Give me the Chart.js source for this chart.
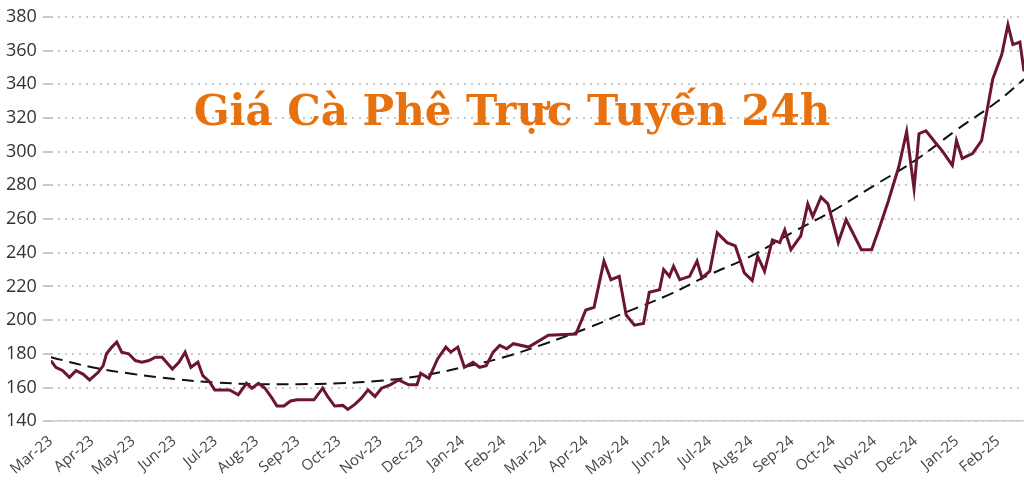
<!DOCTYPE html>
<html><head><meta charset="utf-8">
<script src="https://cdn.jsdelivr.net/npm/chart.js@4"></script>
<style>html,body{margin:0;padding:0;background:#fff;}#w{position:relative;width:1024px;height:482px;}
#t{position:absolute;left:0;width:1024px;top:86px;text-align:center;font:bold 42px "DejaVu Serif",serif;color:#E8710F;}</style>
</head><body><div id="w"><canvas id="c" width="1024" height="482"></canvas><div id="t">Giá Cà Phê Trực Tuyến 24h</div></div>
<script>
const monthLabels=["Mar-23","Apr-23","May-23","Jun-23","Jul-23","Aug-23","Sep-23","Oct-23","Nov-23","Dec-23","Jan-24","Feb-24","Mar-24","Apr-24","May-24","Jun-24","Jul-24","Aug-24","Sep-24","Oct-24","Nov-24","Dec-24","Jan-25","Feb-25"];
const priceMonths=[0,0.12,0.29,0.45,0.61,0.78,0.94,1.15,1.27,1.35,1.48,1.6,1.72,1.89,2.05,2.21,2.38,2.54,2.7,2.95,3.11,3.26,3.4,3.57,3.69,3.85,3.98,4.18,4.34,4.55,4.75,4.88,5.04,5.2,5.37,5.49,5.66,5.82,5.98,6.19,6.39,6.6,6.72,6.89,7.09,7.21,7.38,7.54,7.7,7.87,8.03,8.24,8.44,8.69,8.89,8.98,9.18,9.39,9.59,9.71,9.88,10.04,10.25,10.41,10.57,10.74,10.9,11.07,11.23,11.6,12.08,12.75,12.99,13.19,13.43,13.6,13.8,13.97,14.17,14.39,14.53,14.78,14.88,15.02,15.12,15.27,15.51,15.69,15.81,16.0,16.18,16.42,16.62,16.84,17.03,17.16,17.33,17.52,17.7,17.82,17.97,18.21,18.38,18.5,18.7,18.87,19.12,19.31,19.68,19.93,20.1,20.34,20.59,20.78,20.96,21.08,21.25,21.5,21.64,21.89,21.99,22.13,22.38,22.6,22.87,23.09,23.24,23.36,23.53,23.63];
const priceValues=[176,172,170,166,170,168,164.5,169,173,180,184,187,181,180,176,175,176,178,178,171,175,181,172,175,167,163.5,158.6,158.6,158.6,155.7,162.5,159.6,162.5,159.6,153.7,149,149,152,152.7,152.7,152.7,159.6,154.7,149,149.4,147,150,153.7,158.6,154.7,159.6,161.6,164.5,161.6,161.6,168.4,165.5,177,184,181,184,172,175,172,173,181,185,183,186,184,191,191.8,206,207.6,235,224,226,203,197,198,216.5,218,230,226,232,224,226,235,225,229,251.8,246,244,228,223.5,238,229,247.6,246,253.5,241.8,250,269,261.5,273,269,246,259.6,241.8,241.8,253.5,271,291,311.8,278,310.6,312.4,304.7,300.6,291.8,306.5,296,298.8,306.5,343,357.6,375.3,363.5,365,347.6];
const trendMonths=[0,1,2,3,4,5,6,7,8,9,10,11,12,13,14,15,16,17,18,19,20,21,22,23,23.63];
const trendValues=[178,172,168,165,163,162,162,162.5,164,167,172,178,186,195,205,215,227,238,252,265,280,295,313,330,343];
const yTicks=[140,160,180,200,220,240,260,280,300,320,340,360,380];
const toXY=(xs,ys)=>xs.map((x,i)=>({x,y:ys[i]}));
new Chart(document.getElementById('c'),{type:'line',data:{datasets:[
{data:toXY(priceMonths,priceValues),borderColor:'#6B1531',borderWidth:3,pointRadius:0,tension:0},
{data:toXY(trendMonths,trendValues),borderColor:'#111',borderWidth:2,borderDash:[12,7],pointRadius:0,tension:0.4}]},
options:{responsive:false,animation:false,layout:{padding:{top:4,right:0,left:0}},plugins:{legend:{display:false},tooltip:{enabled:false}},
scales:{x:{type:'linear',min:0,max:23.63,grid:{display:false},border:{display:true,color:'#ccc',width:1.5},
afterBuildTicks:a=>{a.ticks=monthLabels.map((_,i)=>({value:i}));},
ticks:{autoSkip:false,maxRotation:40,minRotation:40,color:'#444',font:{family:'Open Sans',size:15},callback:v=>monthLabels[v]}},
y:{min:140,max:380,afterBuildTicks:a=>{a.ticks=yTicks.map(v=>({value:v}));},border:{display:false,dash:[2,5]},
grid:{color:'#c8c8c8',lineWidth:2},
ticks:{color:'#333',font:{family:'Open Sans',size:18},padding:6}}}}});
</script></body></html>
